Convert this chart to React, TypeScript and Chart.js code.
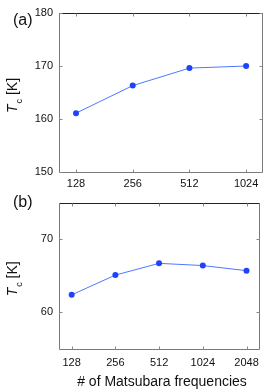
import React, { useEffect, useRef } from "react";
import { Chart, registerables } from "chart.js";

Chart.register(...registerables);

// Panel (a)
const labelsA = ["128", "256", "512", "1024"];
const tcA = [161.1, 166.3, 169.6, 170.0];
const yTicksA = [150, 160, 170, 180];
const yRangeA = [150, 180];

// Panel (b)
const labelsB = ["128", "256", "512", "1024", "2048"];
const tcB = [62.4, 65.1, 66.7, 66.4, 65.7];
const yTicksB = [60, 70];
const yRangeB = [55, 75];

const xTitle = "# of Matsubara frequencies";
const FONT = "'Liberation Sans', Arial, Helvetica, sans-serif";

const framePlugin = {
  id: "frame",
  beforeDatasetsDraw(chart: any) {
    const { ctx, chartArea: a, scales } = chart;
    const L = Math.round(a.left) + 0.5;
    const R = Math.round(a.right) + 0.5;
    const T = Math.round(a.top) + 0.5;
    const B = Math.round(a.bottom) + 0.5;
    ctx.save();
    ctx.lineWidth = 1;
    ctx.strokeStyle = "#7a7a7a";
    ctx.beginPath();
    ctx.moveTo(L, T); ctx.lineTo(L, B); ctx.lineTo(R, B); ctx.lineTo(R, T);
    ctx.stroke();
    ctx.strokeStyle = "#222";
    ctx.beginPath();
    ctx.moveTo(L, T); ctx.lineTo(R, T);
    ctx.stroke();
    ctx.strokeStyle = "#888";
    const tl = 3;
    ctx.beginPath();
    scales.x.ticks.forEach((t: any) => {
      const px = Math.round(scales.x.getPixelForValue(t.value)) + 0.5;
      ctx.moveTo(px, B); ctx.lineTo(px, B - tl);
      ctx.moveTo(px, T); ctx.lineTo(px, T + tl);
    });
    scales.y.ticks.forEach((t: any) => {
      const py = Math.round(scales.y.getPixelForValue(t.value)) + 0.5;
      ctx.moveTo(L, py); ctx.lineTo(L + tl, py);
      ctx.moveTo(R, py); ctx.lineTo(R - tl, py);
    });
    ctx.stroke();
    ctx.restore();
  },
  afterDraw(chart: any, _args: any, opts: any) {
    const { ctx, chartArea: a } = chart;
    ctx.save();
    ctx.fillStyle = "#111";
    // panel label
    ctx.font = `16px ${FONT}`;
    ctx.textBaseline = "alphabetic";
    ctx.textAlign = "left";
    ctx.fillText(opts.panel, 13, opts.panelY);
    // y title: T_c [K], rotated
    const fMain = `14px ${FONT}`;
    const fIt = `italic 14px ${FONT}`;
    const fSub = `9px ${FONT}`;
    ctx.font = fIt; const wT = ctx.measureText("T").width;
    ctx.font = fSub; const wc = ctx.measureText("c").width;
    ctx.font = fMain; const wK = ctx.measureText(" [K]").width;
    const gap = 1;
    const total = wT + gap + wc + wK;
    const cy = (a.top + a.bottom) / 2 + 3;
    ctx.translate(17, cy);
    ctx.rotate(-Math.PI / 2);
    let x = -total / 2;
    ctx.font = fIt; ctx.fillText("T", x, 0); x += wT + gap;
    ctx.font = fSub; ctx.fillText("c", x, 5); x += wc;
    ctx.font = fMain; ctx.fillText(" [K]", x, 0);
    ctx.restore();
    if (opts.xTitle) {
      ctx.save();
      ctx.fillStyle = "#111";
      ctx.font = `14px ${FONT}`;
      ctx.textAlign = "center";
      ctx.textBaseline = "alphabetic";
      ctx.fillText(opts.xTitle, 162, opts.xTitleY);
      ctx.restore();
    }
  },
};

function makeConfig(
  labels: string[],
  values: number[],
  yTicks: number[],
  yRange: number[],
  xMin: number,
  xMax: number,
  padTop: number,
  xAxisH: number,
  xPad: number,
  frameOpts: any
): any {
  return {
    type: "line",
    data: {
      datasets: [
        {
          data: labels.map((_, i) => ({ x: i, y: values[i] })),
          borderColor: "#4d78ff",
          borderWidth: 1,
          pointBackgroundColor: "#1f42ff",
          pointBorderColor: "#1f42ff",
          pointRadius: 3,
          pointBorderWidth: 0,
          tension: 0,
        },
      ],
    },
    options: {
      animation: false,
      responsive: false,
      devicePixelRatio: 1,
      layout: { padding: { left: 0, right: 4, top: padTop, bottom: 0 } },
      plugins: {
        legend: { display: false },
        tooltip: { enabled: false },
        frame: frameOpts,
      },
      scales: {
        x: {
          type: "linear",
          min: xMin,
          max: xMax,
          grid: { display: false, drawTicks: false },
          border: { display: false },
          afterBuildTicks: (s: any) => {
            s.ticks = labels.map((_, i) => ({ value: i }));
          },
          afterFit: (s: any) => {
            s.height = xAxisH;
          },
          ticks: {
            autoSkip: false,
            maxRotation: 0,
            padding: xPad,
            color: "#111",
            font: { family: FONT, size: 11 },
            callback: (v: any) => labels[v],
          },
        },
        y: {
          min: yRange[0],
          max: yRange[1],
          grid: { display: false, drawTicks: false },
          border: { display: false },
          afterBuildTicks: (s: any) => {
            s.ticks = yTicks.map((v) => ({ value: v }));
          },
          afterFit: (s: any) => {
            s.width = 59;
          },
          ticks: {
            padding: 6,
            color: "#111",
            font: { family: FONT, size: 11 },
          },
        },
      },
    },
    plugins: [framePlugin],
  };
}

export default function App() {
  const refA = useRef<HTMLCanvasElement>(null);
  const refB = useRef<HTMLCanvasElement>(null);

  useEffect(() => {
    const chartA = new Chart(
      refA.current as HTMLCanvasElement,
      makeConfig(labelsA, tcA, yTicksA, yRangeA, -0.3, 3.28, 13, 18, 5, {
        panel: "(a)",
        panelY: 25,
      })
    );
    const chartB = new Chart(
      refB.current as HTMLCanvasElement,
      makeConfig(labelsB, tcB, yTicksB, yRangeB, -0.29, 4.29, 6, 41, 7, {
        panel: "(b)",
        panelY: 17,
        xTitle,
        xTitleY: 196,
      })
    );
    return () => {
      chartA.destroy();
      chartB.destroy();
    };
  }, []);

  return (
    <div
      style={{
        position: "fixed",
        left: 0,
        top: 0,
        width: 266,
        height: 390,
        background: "#fff",
      }}
    >
      <canvas
        ref={refA}
        width={266}
        height={190}
        style={{ position: "absolute", left: 0, top: 0, width: 266, height: 190 }}
      />
      <canvas
        ref={refB}
        width={266}
        height={200}
        style={{ position: "absolute", left: 0, top: 190, width: 266, height: 200 }}
      />
    </div>
  );
}
